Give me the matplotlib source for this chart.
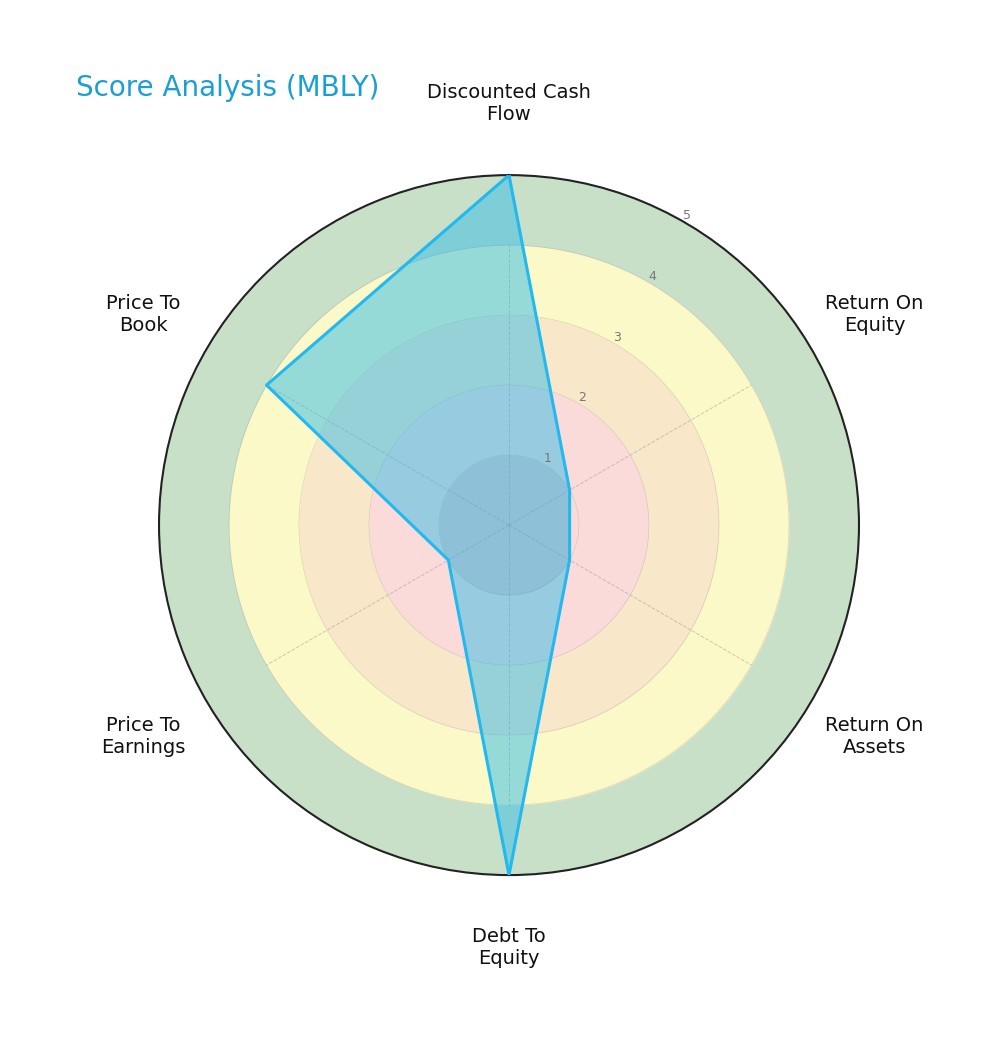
import numpy as np
import matplotlib
matplotlib.use('Agg')
import matplotlib.pyplot as plt

categories = ['Discounted Cash\nFlow', 'Return On\nEquity', 'Return On\nAssets',
              'Debt To\nEquity', 'Price To\nEarnings', 'Price To\nBook']
scores = [5, 1, 1, 5, 1, 4]
ring_levels = [1, 2, 3, 4, 5]
ring_colors = ['#fbdada', '#fbdada', '#f8e7c9', '#fbf9c8', '#c8e0c8']
title = 'Score Analysis (MBLY)'

n = len(categories)
angles = np.linspace(0, 2 * np.pi, n, endpoint=False)
vals = np.array(scores + scores[:1])
ang = np.concatenate([angles, angles[:1]])

fig = plt.figure(figsize=(10, 10.43), dpi=100)
ax = fig.add_axes([0.159, 0.161, 0.70, 0.6711], projection='polar')
ax.set_theta_zero_location('N')
ax.set_theta_direction(-1)
ax.set_ylim(0, 5)

# background bands
full = np.linspace(0, 2 * np.pi, 400)
lo = 0
for lvl, col in zip(ring_levels, ring_colors):
    ax.fill_between(full, lo, lvl, color=col, zorder=0, linewidth=0)
    ax.plot(full, np.full_like(full, lvl), color='#b8a890', lw=0.6, alpha=0.4, zorder=1)
    lo = lvl

# spokes (only up to the 4 ring, like the original)
for a in angles:
    ax.plot([a, a], [0, ring_levels[-2]], color='#999999', ls='--', lw=0.7,
            alpha=0.5, zorder=1)

# data polygon
patch = ax.fill(ang, vals, color='#33bde6', alpha=0.5, zorder=2)[0]
ax.plot(ang, vals, color='#22b8f0', lw=2.2, zorder=4)
inner = ax.fill_between(full, 0, 1, color='#6a90b8', alpha=0.18, zorder=3, linewidth=0)
inner.set_clip_path(patch)

ax.set_xticks(angles)
ax.set_xticklabels([])
ax.set_yticks(ring_levels)
ax.set_yticklabels([])
ax.grid(False)
ax.spines['polar'].set_color('#222222')
ax.spines['polar'].set_linewidth(1.5)

for a, lab in zip(angles, categories):
    ax.text(a, 6.03, lab, ha='center', va='center', fontsize=14, color='#111111')

for lvl in ring_levels:
    ax.text(np.deg2rad(30), lvl + 0.1, str(lvl), ha='center', va='center',
            fontsize=9, color='#777777', zorder=5)

fig.text(0.076, 0.9156, title, fontsize=20, color='#1a9fd4', ha='left', va='center')

fig.savefig('out.png', dpi=100)
